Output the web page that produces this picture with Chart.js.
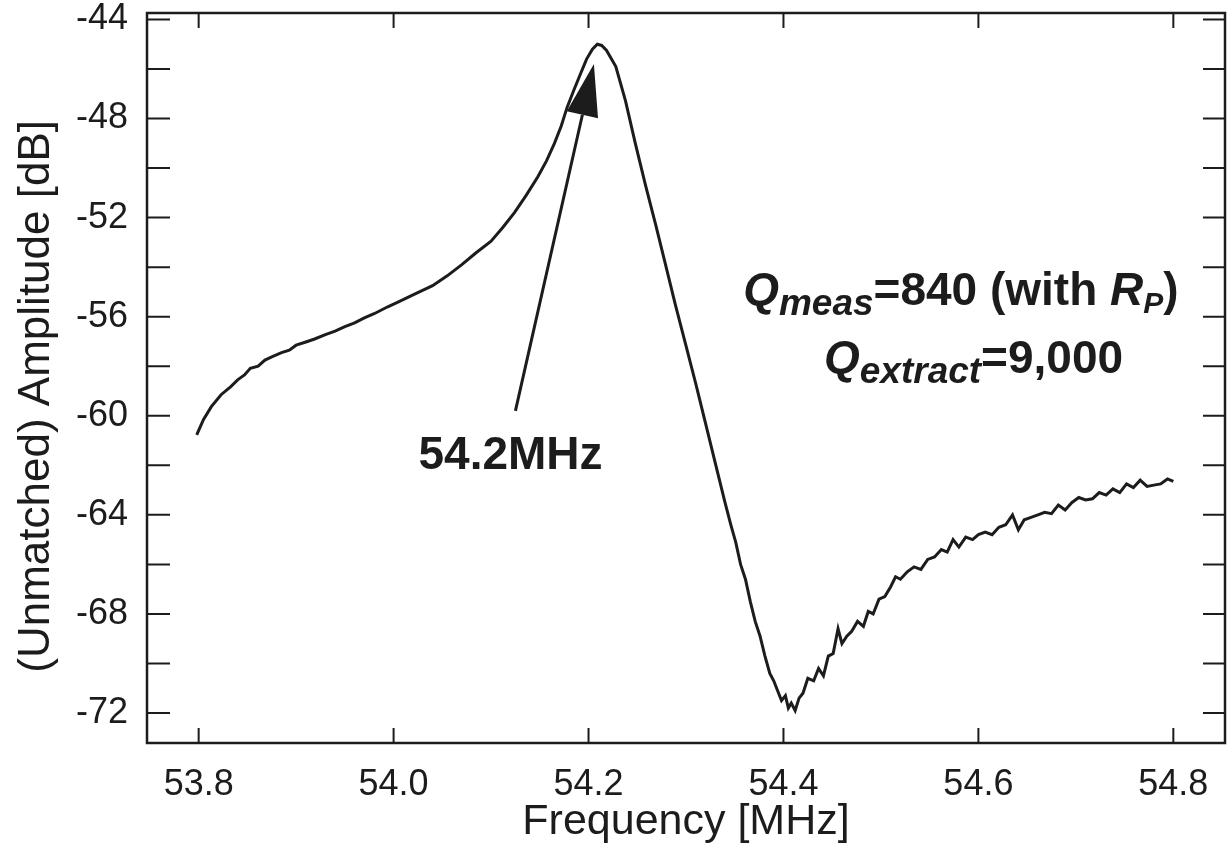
<!DOCTYPE html>
<html>
<head>
<meta charset="utf-8">
<script src="https://cdn.jsdelivr.net/npm/chart.js@4.4.0/dist/chart.umd.min.js"></script>
<style>
	html, body { margin: 0; background: #fff; }
</style>
</head>
<body>
<canvas id="graph" width="1231" height="868"></canvas>
<script>
const freq = [
	53.798, 53.805, 53.813, 53.823, 53.833, 53.840, 53.847, 53.853, 53.861, 53.868,
	53.875, 53.885, 53.893, 53.900, 53.910, 53.919, 53.930, 53.940, 53.950, 53.960,
	53.970, 53.980, 53.994, 54.005, 54.021, 54.040, 54.055, 54.070, 54.084, 54.100,
	54.112, 54.124, 54.136, 54.148, 54.157, 54.165, 54.172, 54.178, 54.185, 54.192,
	54.198, 54.204, 54.209, 54.2135, 54.2185, 54.228, 54.238, 54.248, 54.2585, 54.269,
	54.279, 54.289, 54.2995, 54.310, 54.320, 54.330, 54.340, 54.346, 54.351, 54.356,
	54.361, 54.366, 54.371, 54.376, 54.381, 54.386, 54.390, 54.394, 54.398, 54.402,
	54.405, 54.408, 54.412, 54.416, 54.420, 54.425, 54.431, 54.436, 54.441, 54.446,
	54.451, 54.456, 54.460, 54.465, 54.470, 54.476, 54.482, 54.487, 54.492, 54.498,
	54.504, 54.510, 54.515, 54.520, 54.527, 54.534, 54.541, 54.548, 54.555, 54.562,
	54.568, 54.574, 54.580, 54.587, 54.594, 54.600, 54.607, 54.614, 54.621, 54.628,
	54.635, 54.641, 54.647, 54.654, 54.661, 54.668, 54.675, 54.682, 54.689, 54.696,
	54.703, 54.710, 54.717, 54.724, 54.731, 54.738, 54.745, 54.752, 54.759, 54.766,
	54.773, 54.780, 54.787, 54.794, 54.800,
];
const amplitude = [
	-60.77, -60.15, -59.63, -59.15, -58.82, -58.55, -58.35, -58.08, -58.0, -57.75,
	-57.62, -57.45, -57.35, -57.15, -57.02, -56.9, -56.72, -56.58, -56.4, -56.25,
	-56.05, -55.88, -55.6, -55.4, -55.1, -54.75, -54.35, -53.9, -53.44, -52.95,
	-52.4, -51.8, -51.1, -50.35, -49.7, -49.0, -48.3, -47.55, -46.85, -46.17,
	-45.6, -45.2, -45.0, -45.05, -45.25, -45.9, -47.3, -49.0, -50.7, -52.3,
	-53.9, -55.5, -57.1, -58.7, -60.3, -61.9, -63.5, -64.4, -65.1, -66.0,
	-66.6, -67.5, -68.3, -68.9, -69.7, -70.4, -70.7, -71.1, -71.5, -71.3,
	-71.8, -71.6, -71.9, -71.4, -71.2, -70.6, -70.7, -70.2, -70.5, -69.7,
	-69.6, -68.6, -69.2, -68.9, -68.7, -68.3, -68.5, -67.9, -68.0, -67.4,
	-67.3, -66.9, -66.5, -66.6, -66.3, -66.1, -66.2, -65.8, -65.7, -65.4,
	-65.5, -65.0, -65.3, -64.9, -65.0, -64.8, -64.7, -64.8, -64.5, -64.4,
	-64.0, -64.6, -64.2, -64.1, -64.0, -63.9, -63.95, -63.6, -63.8, -63.5,
	-63.3, -63.4, -63.35, -63.1, -63.2, -62.95, -63.1, -62.75, -62.9, -62.6,
	-62.85, -62.8, -62.75, -62.55, -62.65,
];

const xTicks = [53.8, 54.0, 54.2, 54.4, 54.6, 54.8];
const yTicks = [-72, -70, -68, -66, -64, -62, -60, -58, -56, -54, -52, -50, -48, -46, -44];
const yLabels = [-72, -68, -64, -60, -56, -52, -48, -44];

// annotations, in data units
const arrowTail = [54.125, -59.8];
const arrowTip = [54.2055, -45.8];
const peakLabel = { text: "54.2MHz", x: 54.12, y: -62.15 };
const qLine1 = { x: 54.582, y: -55.53 };
const qLine2 = { x: 54.595, y: -58.27 };

const FAMILY = "'Liberation Sans', Arial, Helvetica, sans-serif";
const INK = "#1c1c1c";

const drawRuns = (ctx, runs, cx, baseY) => {
	let total = 0;
	runs.forEach((r) => {
		ctx.font = r.font + " " + FAMILY;
		r.w = ctx.measureText(r.t).width;
		total += r.w;
	});
	let x = cx - total / 2;
	ctx.textBaseline = "alphabetic";
	ctx.textAlign = "left";
	runs.forEach((r) => {
		ctx.font = r.font + " " + FAMILY;
		ctx.fillText(r.t, x, baseY + (r.dy || 0));
		x += r.w;
	});
};

const overlay = {
	id: "overlay",
	afterDraw(chart) {
		const { ctx, chartArea: a, scales } = chart;
		const xs = scales.x;
		const ys = scales.y;
		ctx.save();
		ctx.strokeStyle = INK;
		ctx.fillStyle = INK;

		// frame
		ctx.lineWidth = 2.5;
		ctx.strokeRect(a.left, a.top, a.right - a.left, a.bottom - a.top);

		// inward ticks
		ctx.lineWidth = 2;
		ctx.beginPath();
		yTicks.forEach((v) => {
			const py = ys.getPixelForValue(v);
			ctx.moveTo(a.left, py);
			ctx.lineTo(a.left + 23, py);
			ctx.moveTo(a.right, py);
			ctx.lineTo(a.right - 22, py);
		});
		xTicks.forEach((v) => {
			const px = xs.getPixelForValue(v);
			ctx.moveTo(px, a.bottom);
			ctx.lineTo(px, a.bottom - 15);
			ctx.moveTo(px, a.top);
			ctx.lineTo(px, a.top + 15);
		});
		ctx.stroke();

		// arrow to the peak
		const tx = xs.getPixelForValue(arrowTail[0]);
		const ty = ys.getPixelForValue(arrowTail[1]);
		const hx = xs.getPixelForValue(arrowTip[0]);
		const hy = ys.getPixelForValue(arrowTip[1]);
		const len = Math.hypot(hx - tx, hy - ty);
		const ux = (hx - tx) / len;
		const uy = (hy - ty) / len;
		const headLen = 52;
		const headW = 16;
		const bx = hx - ux * headLen;
		const by = hy - uy * headLen;
		ctx.lineWidth = 3;
		ctx.beginPath();
		ctx.moveTo(tx, ty);
		ctx.lineTo(bx, by);
		ctx.stroke();
		ctx.beginPath();
		ctx.moveTo(hx, hy);
		ctx.lineTo(bx - uy * headW, by + ux * headW);
		ctx.lineTo(bx + uy * headW, by - ux * headW);
		ctx.closePath();
		ctx.fill();

		ctx.font = "bold 46px " + FAMILY;
		ctx.textAlign = "center";
		ctx.textBaseline = "alphabetic";
		ctx.fillText(peakLabel.text, xs.getPixelForValue(peakLabel.x), ys.getPixelForValue(peakLabel.y));

		drawRuns(ctx, [
			{ t: "Q", font: "italic bold 46px" },
			{ t: "meas", font: "italic bold 37px", dy: 10 },
			{ t: "=840 (with ", font: "bold 46px" },
			{ t: "R", font: "italic bold 46px" },
			{ t: "P", font: "italic bold 30px", dy: 8 },
			{ t: ")", font: "bold 46px" },
		], xs.getPixelForValue(qLine1.x), ys.getPixelForValue(qLine1.y));

		drawRuns(ctx, [
			{ t: "Q", font: "italic bold 46px" },
			{ t: "extract", font: "italic bold 37px", dy: 10 },
			{ t: "=9,000", font: "bold 46px" },
		], xs.getPixelForValue(qLine2.x), ys.getPixelForValue(qLine2.y));

		ctx.restore();
	},
};

const ctx = document.getElementById("graph").getContext("2d");
const lineChart = new Chart(ctx, {
	type: "line",
	data: {
		datasets: [
			{
				label: "Amplitude",
				data: freq.map((f, i) => ({ x: f, y: amplitude[i] })),
				borderColor: INK,
				borderWidth: 3,
				pointRadius: 0,
				tension: 0,
				fill: false,
			},
		],
	},
	options: {
		responsive: false,
		animation: false,
		layout: { padding: { top: 13, right: 6, left: 0, bottom: 0 } },
		plugins: {
			legend: { display: false },
			tooltip: { enabled: false },
		},
		scales: {
			x: {
				type: "linear",
				min: 53.747,
				max: 54.853,
				afterBuildTicks: (s) => {
					s.ticks = xTicks.map((v) => ({ value: v }));
				},
				afterFit: (s) => {
					s.height = 125;
					s.paddingLeft = 0;
					s.paddingRight = 0;
				},
				grid: { display: false, drawTicks: false },
				border: { display: false },
				ticks: {
					padding: 20,
					maxRotation: 0,
					color: INK,
					font: { family: FAMILY, size: 36 },
					callback: (v) => Number(v).toFixed(1),
				},
				title: {
					display: true,
					text: "Frequency [MHz]",
					color: INK,
					font: { family: FAMILY, size: 43 },
					padding: { top: 0, bottom: 20 },
				},
			},
			y: {
				type: "linear",
				min: -73.21,
				max: -43.74,
				afterBuildTicks: (s) => {
					s.ticks = yTicks.map((v) => ({ value: v }));
				},
				afterFit: (s) => {
					s.width = 147;
					s.paddingTop = 0;
					s.paddingBottom = 0;
				},
				grid: { display: false, drawTicks: false },
				border: { display: false },
				ticks: {
					padding: 19,
					color: INK,
					font: { family: FAMILY, size: 36 },
					callback: (v) => (yLabels.includes(v) ? String(v) : ""),
				},
				title: {
					display: true,
					// trailing spaces nudge the label down a little, like the original
					text: "(Unmatched) Amplitude [dB]   ",
					color: INK,
					font: { family: FAMILY, size: 44 },
					padding: { top: 10, bottom: 0 },
				},
			},
		},
	},
	plugins: [overlay],
});
</script>
</body>
</html>
